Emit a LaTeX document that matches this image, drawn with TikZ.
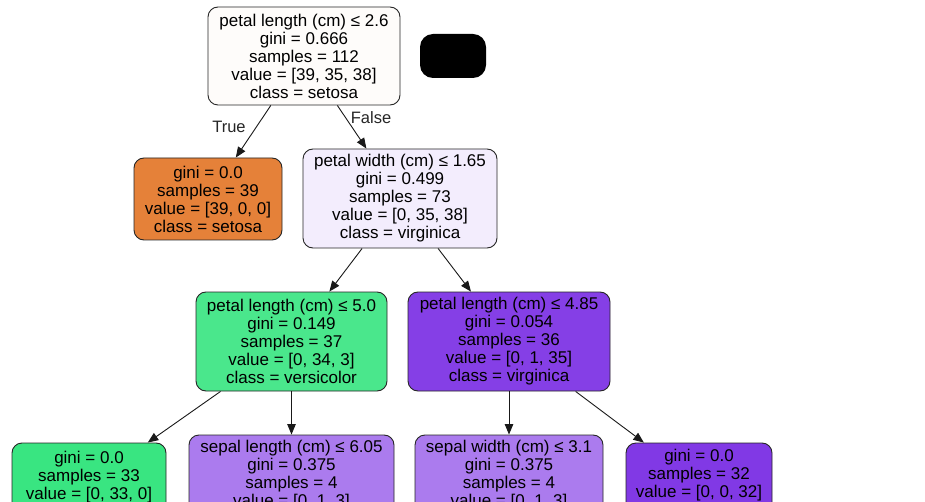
\documentclass[tikz,border=0pt]{standalone}
\usepackage{fontspec}
\setmainfont{Liberation Sans}
\usetikzlibrary{arrows.meta}
\definecolor{rootc}{HTML}{FEFCFA}
\definecolor{setosac}{HTML}{E58139}
\definecolor{pwc}{HTML}{F3EDFD}
\definecolor{vers1}{HTML}{4AE78C}
\definecolor{virg1}{HTML}{853FE6}
\definecolor{vers0}{HTML}{39E581}
\definecolor{virgmid}{HTML}{AB7BEE}
\definecolor{virg0}{HTML}{8139E5}
\begin{document}
\begin{tikzpicture}[x=1pt,y=-1pt,
  treenode/.style={draw=black!85, line width=0.9pt, rounded corners=10pt, align=center,
    inner sep=0pt, font=\fontsize{17}{18}\selectfont, text=black},
  edge/.style={draw=black!90, line width=0.9pt, -{Triangle[length=10.5pt,width=8.5pt]}},
  lbl/.style={font=\fontsize{16.5}{18}\selectfont, inner sep=0pt, text=black!85}]
\useasboundingbox (0,0) rectangle (925,502);
\clip (0,0) rectangle (925,502);
\fill[white] (0,0) rectangle (925,502);

\node[treenode, fill=rootc, minimum width=192pt, minimum height=98pt] (root) at (304,56)
  {petal length (cm) ≤ 2.6\\gini = 0.666\\samples = 112\\value = [39, 35, 38]\\class = setosa};
\node[fill=black, rounded corners=13pt, minimum width=66pt, minimum height=44pt, inner sep=0pt] (blackbox) at (453,56) {};

\node[treenode, fill=setosac, minimum width=148pt, minimum height=82pt] (setleaf) at (208,199)
  {gini = 0.0\\samples = 39\\value = [39, 0, 0]\\class = setosa};
\node[treenode, fill=pwc, minimum width=194pt, minimum height=99pt] (pw) at (400,198.5)
  {petal width (cm) ≤ 1.65\\gini = 0.499\\samples = 73\\value = [0, 35, 38]\\class = virginica};

\node[treenode, fill=vers1, minimum width=191pt, minimum height=99pt] (pl5) at (291.5,341.5)
  {petal length (cm) ≤ 5.0\\gini = 0.149\\samples = 37\\value = [0, 34, 3]\\class = versicolor};
\node[treenode, fill=virg1, minimum width=202pt, minimum height=99pt] (pl485) at (509,341.5)
  {petal length (cm) ≤ 4.85\\gini = 0.054\\samples = 36\\value = [0, 1, 35]\\class = virginica};

\node[treenode, fill=vers0, minimum width=154pt, minimum height=82pt] (versleaf) at (89,484)
  {gini = 0.0\\samples = 33\\value = [0, 33, 0]\\\phantom{class = versicolor}};
\node[treenode, fill=virgmid, minimum width=205pt, minimum height=99pt] (sl) at (291.5,484.5)
  {sepal length (cm) ≤ 6.05\\gini = 0.375\\samples = 4\\value = [0, 1, 3]\\\phantom{class = virginica}};
\node[treenode, fill=virgmid, minimum width=188pt, minimum height=99pt] (sw) at (509,484.5)
  {sepal width (cm) ≤ 3.1\\gini = 0.375\\samples = 4\\value = [0, 1, 3]\\\phantom{class = virginica}};
\node[treenode, fill=virg0, minimum width=146pt, minimum height=82pt] (virgleaf) at (699,484)
  {gini = 0.0\\samples = 32\\value = [0, 0, 32]\\\phantom{class = virginica}};

\draw[edge] (root) -- (setleaf);
\draw[edge] (root) -- (pw);
\draw[edge] (pw) -- (pl5);
\draw[edge] (pw) -- (pl485);
\draw[edge] (pl5) -- (versleaf);
\draw[edge] (pl5) -- (sl);
\draw[edge] (pl485) -- (sw);
\draw[edge] (pl485) -- (virgleaf);

\node[lbl] (truelbl) at (229,127) {True};
\node[lbl] (falselbl) at (371,118) {False};
\end{tikzpicture}
\end{document}
